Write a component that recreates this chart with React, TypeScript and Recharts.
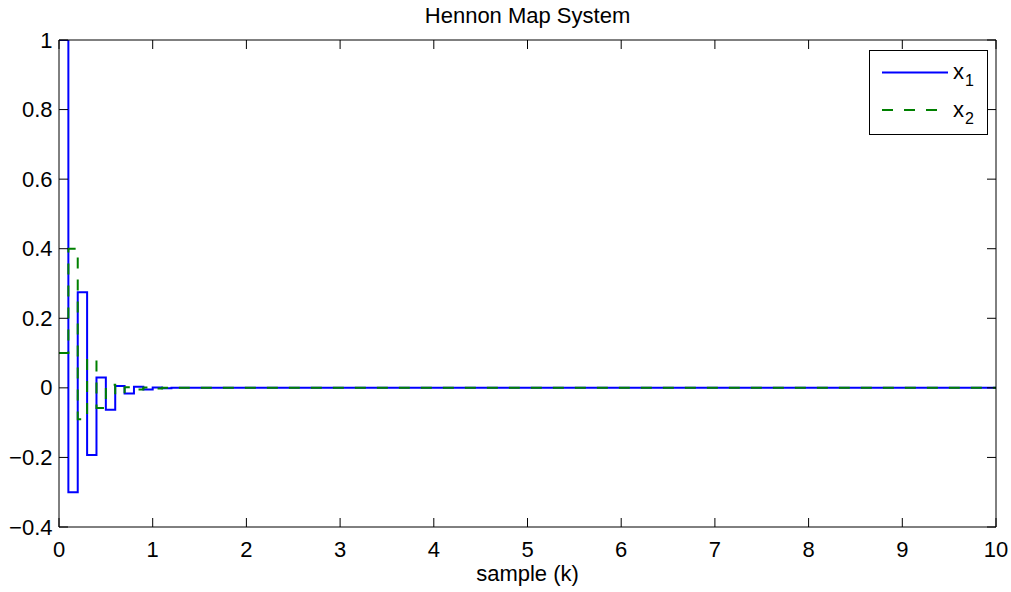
import React from 'react';
import { LineChart, Line, XAxis, YAxis, Legend, Customized } from 'recharts';

// sample instants (k) and state values
const sampleK = [0, 0.1, 0.2, 0.3, 0.4, 0.5, 0.6, 0.7, 0.8, 0.9, 1.0, 1.1, 1.2, 10];
const x1Values = [1, -0.3, 0.275, -0.193, 0.03, -0.063, 0.005, -0.016, 0.003, -0.005, 0.001, -0.001, 0, 0];
const x2Values = [0.1, 0.4, -0.09, 0.083, -0.058, 0.009, -0.019, 0.0015, -0.005, 0.001, -0.0015, 0.0003, 0, 0];

const xTicks = [0, 1, 2, 3, 4, 5, 6, 7, 8, 9, 10];
const yTicks = [-0.4, -0.2, 0, 0.2, 0.4, 0.6, 0.8, 1];

const data = sampleK.map((k, i) => ({ k, x1: x1Values[i], x2: x2Values[i] }));

const FONT = '"Liberation Sans", Arial, Helvetica, sans-serif';
const FS = 22;
const TICK_LEN = 9;

const fmtY = (v: number) => (v < 0 ? '\u2212' + String(Math.abs(v)) : String(v));

const BottomTick = (props: any) => {
  const { x, y, payload } = props;
  return (
    <g>
      <line x1={x} y1={y} x2={x} y2={y - TICK_LEN} stroke="#000" strokeWidth={1} />
      <text x={x} y={y + 29.5} textAnchor="middle" fontSize={FS} fontFamily={FONT} fill="#000">
        {payload.value}
      </text>
    </g>
  );
};

const TopTick = (props: any) => {
  const { x, y } = props;
  return <line x1={x} y1={y} x2={x} y2={y + TICK_LEN} stroke="#000" strokeWidth={1} />;
};

const LeftTick = (props: any) => {
  const { x, y, payload } = props;
  return (
    <g>
      <line x1={x} y1={y} x2={x + TICK_LEN} y2={y} stroke="#000" strokeWidth={1} />
      <text x={x - 6.5} y={y + 7.5} textAnchor="end" fontSize={FS} fontFamily={FONT} fill="#000">
        {fmtY(payload.value)}
      </text>
    </g>
  );
};

const RightTick = (props: any) => {
  const { x, y } = props;
  return <line x1={x} y1={y} x2={x - TICK_LEN} y2={y} stroke="#000" strokeWidth={1} />;
};

const LegendBox = () => (
  <svg width={120} height={86} style={{ display: 'block' }}>
    <rect x={0.5} y={0.5} width={118} height={84} fill="#fff" stroke="#000" strokeWidth={1} />
    <line x1={13} y1={22.5} x2={79} y2={22.5} stroke="#0000ff" strokeWidth={2} />
    <text x={84} y={29} fontSize={FS} fontFamily={FONT} fill="#000">
      x<tspan fontSize={16} dx={1} dy={7}>1</tspan>
    </text>
    <line x1={13} y1={60} x2={79} y2={60} stroke="#008000" strokeWidth={2} strokeDasharray="11 11" />
    <text x={84} y={66.5} fontSize={FS} fontFamily={FONT} fill="#000">
      x<tspan fontSize={16} dx={1} dy={7}>2</tspan>
    </text>
  </svg>
);

const Title = () => (
  <text x={527.5} y={23.3} textAnchor="middle" fontSize={FS} fontFamily={FONT} fill="#000">
    Hennon Map System
  </text>
);

export default function App() {
  return (
    <div style={{ position: 'absolute', left: 0, top: 0, width: 1011, height: 592, background: '#fff' }}>
      <LineChart
        width={1011}
        height={592}
        data={data}
        margin={{ top: 30, right: 5, left: 0, bottom: 0 }}
      >
        <XAxis
          xAxisId="bottom"
          dataKey="k"
          type="number"
          domain={[0, 10]}
          ticks={xTicks}
          interval={0}
          height={65}
          tickSize={0}
          tickMargin={0}
          tickLine={false}
          axisLine={{ stroke: '#000', strokeWidth: 1 }}
          tick={<BottomTick />}
          label={{ value: 'sample (k)', position: 'insideBottom', offset: 11, fontSize: FS, fontFamily: FONT, fill: '#000' }}
          allowDataOverflow
        />
        <XAxis
          xAxisId="top"
          orientation="top"
          dataKey="k"
          type="number"
          domain={[0, 10]}
          ticks={xTicks}
          interval={0}
          height={10}
          tickSize={0}
          tickMargin={0}
          tickLine={false}
          axisLine={{ stroke: '#000', strokeWidth: 1 }}
          tick={<TopTick />}
          allowDataOverflow
        />
        <YAxis
          yAxisId="left"
          type="number"
          domain={[-0.4, 1]}
          ticks={yTicks}
          interval={0}
          width={59}
          tickSize={0}
          tickMargin={0}
          tickLine={false}
          axisLine={{ stroke: '#000', strokeWidth: 1 }}
          tick={<LeftTick />}
          allowDataOverflow
        />
        <YAxis
          yAxisId="right"
          orientation="right"
          type="number"
          domain={[-0.4, 1]}
          ticks={yTicks}
          interval={0}
          width={10}
          tickSize={0}
          tickMargin={0}
          tickLine={false}
          axisLine={{ stroke: '#000', strokeWidth: 1 }}
          tick={<RightTick />}
          allowDataOverflow
        />
        <Line
          xAxisId="bottom"
          yAxisId="left"
          type="stepAfter"
          dataKey="x1"
          stroke="#0000ff"
          strokeWidth={2}
          dot={false}
          activeDot={false}
          isAnimationActive={false}
        />
        <Line
          xAxisId="bottom"
          yAxisId="left"
          type="stepAfter"
          dataKey="x2"
          stroke="#008000"
          strokeWidth={2}
          strokeDasharray="11 11"
          dot={false}
          activeDot={false}
          isAnimationActive={false}
        />
        <Legend
          layout="horizontal"
          verticalAlign="middle"
          align="center"
          content={<LegendBox />}
          wrapperStyle={{ left: 869, top: 50, width: 120, height: 86 }}
        />
        <Customized component={<Title />} />
      </LineChart>
    </div>
  );
}
